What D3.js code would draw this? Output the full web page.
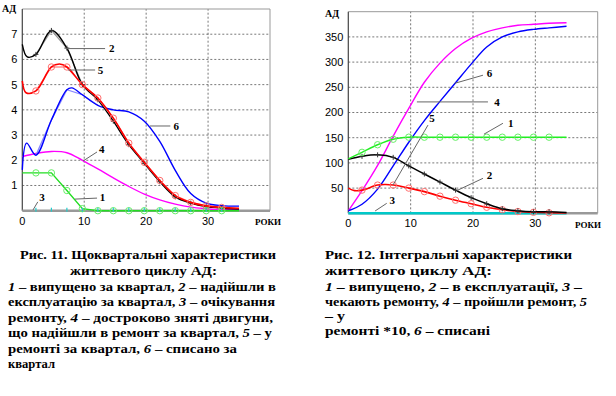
<!DOCTYPE html>
<html>
<head>
<meta charset="utf-8">
<script src="https://cdnjs.cloudflare.com/ajax/libs/d3/7.8.5/d3.min.js"></script>
<style>
  body { margin: 0; background: #fff; }
  svg { display: block; }
</style>
</head>
<body>
<svg id="fig" width="616" height="396"></svg>
<script>
// years at which the quarterly samples carry markers
const markerYears = [2.2, 4.7, 7.2, 9.7, 12.2, 14.7, 17.2, 19.7, 22.2, 24.7, 27.2, 29.7, 32.2]

// Рис. 11 — щоквартальні характеристики (АД)
const q1Released = [[0,1.5],[2.2,1.5],[4.7,1.5],[7.2,0.8],[9.7,0.08],[12.2,0],[14.7,0],[17.2,0],[19.7,0],[22.2,0],[24.7,0],[27.2,0],[29.7,0],[32.2,0],[35,0]]
const q2InService = [[0,6.6],[0.8,6.1],[2.2,6.2],[4.7,7.15],[7.2,6.45],[9.7,5.0],[12.2,4.4],[14.7,3.55],[17.2,2.62],[19.7,1.88],[22.2,1.15],[24.7,0.55],[27.2,0.3],[29.7,0.16],[32.2,0.1],[35,0.07]]
const q3Waiting = [[0,0],[2.2,0],[4.7,0],[7.2,0],[9.7,0],[12.2,0],[14.7,0],[17.2,0],[19.7,0],[22.2,0],[24.7,0],[27.2,0],[29.7,0],[32.2,0],[35,0]]
const q4Early = [[0,2.15],[2.2,2.27],[4.7,2.35],[7.2,2.3],[9.7,2.0],[12.2,1.66],[14.7,1.3],[17.2,0.96],[19.7,0.66],[22.2,0.43],[24.7,0.26],[27.2,0.14],[29.7,0.08],[32.2,0.04],[35,0.03]]
const q5InRepair = [[0,5.15],[0.6,4.68],[2.2,4.75],[4.7,5.7],[6,5.82],[7.2,5.7],[9.7,5.0],[12.2,4.47],[14.7,3.67],[17.2,2.68],[19.7,1.92],[22.2,1.2],[24.7,0.6],[27.2,0.33],[29.7,0.19],[32.2,0.13],[35,0.1]]
const q6Scrapped = [[0,1.62],[0.7,2.68],[2.2,2.2],[4.7,3.6],[7.2,4.8],[8,4.87],[9.7,4.6],[12.2,4.18],[14.7,4.0],[17.2,3.92],[19.7,3.55],[22.2,2.75],[24.7,1.6],[27.2,0.68],[29.7,0.3],[32.2,0.2],[35,0.18]]

// Рис. 12 — інтегральні характеристики (АД)
const i1Released = [[0,108],[2.2,121],[4.7,136],[7.2,147],[9.7,151],[12.2,151],[14.7,151],[17.2,151],[19.7,151],[22.2,151],[24.7,151],[27.2,151],[29.7,151],[32.2,151],[35,151]]
const i2InService = [[0,107],[2.2,113],[4.7,116],[7.2,111],[9.7,94],[12.2,78],[14.7,62],[17.2,46],[19.7,31],[22.2,19],[24.7,9],[27.2,5],[29.7,3],[32.2,3],[35,1.5]]
const i3Waiting = [[0,0],[35,0]]
const i4Repaired = [[0,5],[2.2,45],[4.7,95],[7.2,153],[9.7,208],[12.2,260],[14.7,298],[17.2,327],[19.7,347],[22.2,360],[24.7,368],[27.2,373],[29.7,375],[32.2,377],[35,378]]
const i5InRepair = [[0,50],[1,45],[2.2,46],[4.7,56],[6,57],[7.2,56],[9.7,50],[12.2,43],[14.7,34],[17.2,26],[19.7,19],[22.2,12],[24.7,7],[27.2,3.5],[29.7,2],[32.2,1],[35,0.5]]
const i6Scrapped = [[0,5],[2.2,18],[4.7,48],[7.2,94],[9.7,141],[12.2,184],[14.7,222],[17.2,259],[19.7,296],[22.2,330],[24.7,350],[27.2,360],[29.7,365],[32.2,368],[35,371]]

const xTicks = [0, 10, 20, 30]
const yTicksQuarterly = [1, 2, 3, 4, 5, 6, 7]
const yTicksIntegral = [50, 100, 150, 200, 250, 300, 350]

const captionLeft = [
  ["Рис. 11. Щоквартальні характеристики"],
  ["життевого циклу АД:"],
  [["1", 1], " – випущено за квартал, ", ["2", 1], " – надійшли в"],
  ["експлуатацію  за квартал, ", ["3", 1], " – очікування"],
  ["ремонту,  ", ["4", 1], " – достроково зняті двигуни,"],
  ["що надійшли  в ремонт за квартал, ", ["5", 1], " – у"],
  ["ремонті за квартал,  ", ["6", 1], " – списано за"],
  ["квартал"]
]
const captionRight = [
  ["Рис. 12. Інтегральні характеристики"],
  ["життевого циклу АД:"],
  [["1", 1], " – випущено, ", ["2", 1], " – в експлуатації,  ", ["3", 1], " –"],
  ["чекають ремонту, ", ["4", 1], " – пройшли ремонт, ", ["5", 1]],
  ["– у"],
  ["ремонті *10, ", ["6", 1], " – списані"]
]

const svg = d3.select("#fig")
const serif = "'Liberation Serif', 'Times New Roman', serif"
const sans = "'Liberation Sans', Arial, sans-serif"

function drawPanel(p) {
  const x = d3.scaleLinear().domain([0, 40]).range(p.xr)
  const y = d3.scaleLinear().domain(p.yd).range(p.yr)
  const g = svg.append("g")

  // dotted grid
  g.selectAll(".hg").data(p.yTicks).join("line")
    .attr("x1", p.xr[0]).attr("x2", p.xr[1])
    .attr("y1", d => y(d)).attr("y2", d => y(d))
    .attr("stroke", "#555").attr("stroke-width", 0.8).attr("stroke-dasharray", "2,2")
  g.selectAll(".vg").data(xTicks.slice(1)).join("line")
    .attr("x1", d => x(d)).attr("x2", d => x(d))
    .attr("y1", p.yr[0]).attr("y2", p.yr[1])
    .attr("stroke", "#555").attr("stroke-width", 0.8).attr("stroke-dasharray", "2,2")

  // frame
  g.append("path")
    .attr("d", `M${p.xr[0]},${p.yr[1]}H${p.xr[1]}V${p.yr[0]}`)
    .attr("fill", "none").attr("stroke", "#999").attr("stroke-width", 1)
  g.append("line")
    .attr("x1", p.xr[0]).attr("x2", p.xr[0]).attr("y1", p.yr[0]).attr("y2", p.yr[1])
    .attr("stroke", "#444").attr("stroke-width", 1.2)
  g.append("line")
    .attr("x1", p.xr[0]).attr("x2", p.xr[1]).attr("y1", p.yr[0]).attr("y2", p.yr[0])
    .attr("stroke", "#999").attr("stroke-width", 2.5)

  // tick labels
  g.selectAll(".yt").data(p.yTicks).join("text")
    .attr("x", p.xr[0] - 5).attr("y", d => y(d)).attr("dy", "0.36em")
    .attr("text-anchor", "end").attr("font-family", sans).attr("font-size", 11)
    .text(d => d)
  g.selectAll(".xt").data(xTicks).join("text")
    .attr("x", d => x(d)).attr("y", p.yr[0] + 14)
    .attr("text-anchor", "middle").attr("font-family", sans).attr("font-size", 11)
    .text(d => d)

  g.append("text").attr("x", p.yLab[0]).attr("y", p.yLab[1])
    .attr("font-family", serif).attr("font-weight", "bold").attr("font-size", 10).text("АД")
  g.append("text").attr("x", p.xLab[0]).attr("y", p.xLab[1])
    .attr("font-family", serif).attr("font-weight", "bold").attr("font-size", 9).text("РОКИ")

  const lineGen = c => d3.line().x(d => x(d[0])).y(d => y(d[1])).curve(c)

  p.series.forEach(s => {
    const marks = s.data.filter(d => markerYears.includes(d[0]))
    if (s.raw) {
      g.append("path").datum(marks.filter(d => d[0] <= s.rawTo))
        .attr("d", lineGen(d3.curveLinear))
        .attr("fill", "none").attr("stroke", s.raw).attr("stroke-width", 1.3)
    }
    g.append("path").datum(s.data)
      .attr("d", lineGen(s.curve || d3.curveCatmullRom.alpha(0.5)))
      .attr("fill", "none").attr("stroke", s.color).attr("stroke-width", s.width || 1.4)
    if (s.marker === "circle") {
      g.selectAll(null).data(marks).join("circle")
        .attr("cx", d => x(d[0])).attr("cy", d => y(d[1])).attr("r", 3.2)
        .attr("fill", "none").attr("stroke", s.markerColor).attr("stroke-width", 1)
    } else if (s.marker === "plus") {
      g.selectAll(null).data(marks).join("path")
        .attr("d", d => `M${x(d[0]) - 2.5},${y(d[1])}h5M${x(d[0])},${y(d[1]) - 2.5}v5`)
        .attr("stroke", s.markerColor).attr("stroke-width", 1)
    } else if (s.marker === "tick") {
      g.selectAll(null).data(marks).join("line")
        .attr("x1", d => x(d[0])).attr("x2", d => x(d[0]))
        .attr("y1", d => y(d[1]) - 3).attr("y2", d => y(d[1]) + 1)
        .attr("stroke", s.markerColor).attr("stroke-width", 1.2)
    }
  })

  // curve number callouts
  p.labels.forEach(l => {
    g.append("line")
      .attr("x1", x(l.from[0])).attr("y1", y(l.from[1]))
      .attr("x2", x(l.to[0])).attr("y2", y(l.to[1]))
      .attr("stroke", "#666").attr("stroke-width", 1)
    g.append("text").attr("x", x(l.at[0])).attr("y", y(l.at[1])).attr("dy", "0.35em")
      .attr("font-family", serif).attr("font-weight", "bold").attr("font-size", 11)
      .text(l.text)
  })
}

drawPanel({
  xr: [22.3, 270], yd: [0, 8], yr: [210.7, 9], yTicks: yTicksQuarterly,
  yLab: [2, 12], xLab: [255, 225],
  series: [
    { data: q4Early, color: "#ff00ff" },
    { data: q6Scrapped, color: "#0000ff", raw: "#8888ff", rawTo: 12.2 },
    { data: q2InService, color: "#000", raw: "#999", rawTo: 9.7, marker: "plus", markerColor: "#333" },
    { data: q5InRepair, color: "#ff0000", width: 1.6, raw: "#ff9090", rawTo: 35, marker: "circle", markerColor: "#ff7070" },
    { data: q1Released, color: "#22dd22", curve: d3.curveLinear, marker: "circle", markerColor: "#66ee66" },
    { data: q3Waiting, color: "#00cccc", width: 0.01, curve: d3.curveLinear, marker: "tick", markerColor: "#22cccc" }
  ],
  labels: [
    { text: "2", from: [7.06, 6.43], to: [13.37, 6.43], at: [14.0, 6.43] },
    { text: "5", from: [7.4, 5.58], to: [11.76, 5.58], at: [12.2, 5.58] },
    { text: "6", from: [20.6, 3.36], to: [23.9, 3.36], at: [24.4, 3.36] },
    { text: "4", from: [9.8, 1.97], to: [12.07, 2.33], at: [12.4, 2.45] },
    { text: "1", from: [8.5, 0.46], to: [12.07, 0.5], at: [12.5, 0.52] },
    { text: "3", from: [1.73, 0.03], to: [2.5, 0.35], at: [2.75, 0.55] }
  ]
})

drawPanel({
  xr: [348.3, 597.7], yd: [0, 400], yr: [213.3, 11.7], yTicks: yTicksIntegral,
  yLab: [325, 17], xLab: [575, 228],
  series: [
    { data: i3Waiting, color: "#00c8c8", width: 2.5, curve: d3.curveLinear },
    { data: i4Repaired, color: "#ff00ff" },
    { data: i6Scrapped, color: "#0000ff" },
    { data: i5InRepair, color: "#ff0000", width: 1.6, marker: "circle", markerColor: "#ff7070" },
    { data: i2InService, color: "#000", width: 1.5, marker: "plus", markerColor: "#333" },
    { data: i1Released, color: "#22ee22", marker: "circle", markerColor: "#66ee66" }
  ],
  labels: [
    { text: "6", from: [17.1, 258], to: [21.6, 274], at: [22.2, 279] },
    { text: "4", from: [11.0, 221], to: [22.4, 221], at: [23.4, 221] },
    { text: "1", from: [21.76, 157], to: [24.8, 178.6], at: [25.6, 178] },
    { text: "5", from: [7.17, 56], to: [12.78, 175], at: [13.0, 188] },
    { text: "2", from: [17.4, 45], to: [21.6, 69.4], at: [22.2, 76] },
    { text: "3", from: [4.3, 4.6], to: [6.16, 19.8], at: [6.6, 26] }
  ]
})

// captions
function caption(lines, layout) {
  lines.forEach((parts, i) => {
    const L = layout[i]
    const t = svg.append("text")
      .attr("x", L[0]).attr("y", L[1])
      .attr("font-family", serif).attr("font-weight", "bold").attr("font-size", 13)
      .attr("textLength", L[2]).attr("lengthAdjust", "spacingAndGlyphs")
    parts.forEach(pt => {
      if (Array.isArray(pt)) t.append("tspan").attr("font-style", "italic").text(pt[0])
      else t.append("tspan").text(pt)
    })
  })
}

caption(captionLeft, [
  [20, 259, 256], [70, 275, 147], [8, 291, 268], [8, 306, 267],
  [8, 322, 265], [8, 337, 264], [8, 353, 229], [8, 368, 47]
])
caption(captionRight, [
  [325, 259, 247], [325, 275, 167], [325, 291, 257], [325, 306, 262],
  [325, 320, 20], [325, 335, 165]
])
</script>
</body>
</html>
